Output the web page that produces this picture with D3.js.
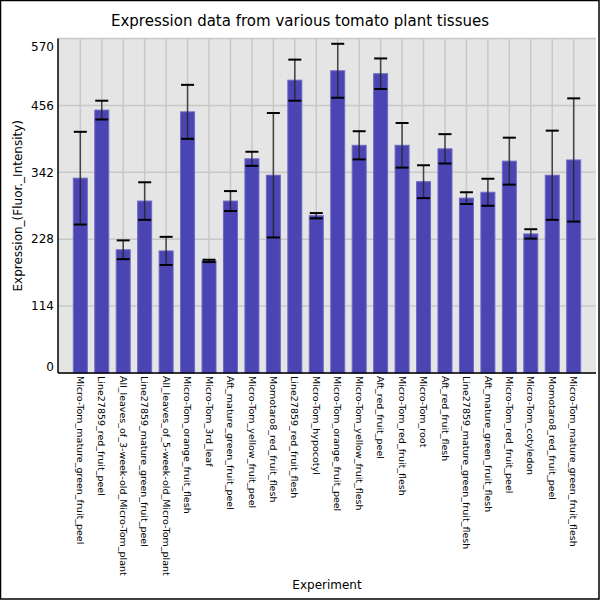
<!DOCTYPE html>
<html>
<head>
<meta charset="utf-8">
<script src="https://cdn.jsdelivr.net/npm/d3@7"></script>
<style>
  body { margin: 0; background: #fff; }
  svg { display: block; font-family: "DejaVu Sans", sans-serif; }
</style>
</head>
<body>
<svg id="chart" width="600" height="600"></svg>
<script>
// tissues on the x axis
const tissues = [
    'Micro-Tom_mature_green_fruit_peel',
    'Line27859_red_fruit_peel',
    'All_leaves_of_3-week-old_Micro-Tom_plant',
    'Line27859_mature_green_fruit_peel',
    'All_leaves_of_5-week-old_Micro-Tom_plant',
    'Micro-Tom_orange_fruit_flesh',
    'Micro-Tom_3rd_leaf',
    'Aft_mature_green_fruit_peel',
    'Micro-Tom_yellow_fruit_peel',
    'Momotaro8_red_fruit_flesh',
    'Line27859_red_fruit_flesh',
    'Micro-Tom_hypocotyl',
    'Micro-Tom_orange_fruit_peel',
    'Micro-Tom_yellow_fruit_flesh',
    'Aft_red_fruit_peel',
    'Micro-Tom_red_fruit_flesh',
    'Micro-Tom_root',
    'Aft_red_fruit_flesh',
    'Line27859_mature_green_fruit_flesh',
    'Aft_mature_green_fruit_flesh',
    'Micro-Tom_red_fruit_peel',
    'Micro-Tom_cotyledon',
    'Momotaro8_red_fruit_peel',
    'Micro-Tom_mature_green_fruit_flesh'
];

// mean expression per tissue
const means = [332, 448, 210, 293, 208, 445, 191, 293, 365, 337, 499,
    268, 515, 388, 510, 388, 326, 382, 298, 308, 361, 237, 337, 363];

// error (+/-) per tissue
const errors = [79, 16, 16, 32, 24, 46, 2, 17, 12, 106, 35,
    4.5, 46, 24, 26, 38, 28, 25, 10, 23, 40, 8, 76, 105];

const yTicks = [0, 114, 228, 342, 456, 570];

const data = tissues.map((t, i) => ({ id: t, value: means[i], err: errors[i] }));

const svg = d3.select('#chart');
const plotL = 58, plotR = 596, plotT = 38.5, plotB = 373;

// outer frame
svg.append('rect')
    .attr('x', 0.5).attr('y', 0.5)
    .attr('width', 598.5).attr('height', 598.5)
    .attr('fill', 'none').attr('stroke', '#000').attr('stroke-width', 1.5);

const xScale = d3.scalePoint()
    .domain(tissues)
    .range([plotL, plotR])
    .padding(1.04);

const yScale = d3.scaleLinear()
    .domain([0, 570])
    .range([plotB, plotT]);

// plot background
svg.append('rect')
    .attr('x', plotL).attr('y', plotT)
    .attr('width', plotR - plotL).attr('height', plotB - plotT)
    .attr('fill', '#e5e5e5');

// grid lines
svg.append('g')
    .selectAll('line')
    .data(yTicks)
    .enter().append('line')
    .attr('x1', plotL).attr('x2', plotR)
    .attr('y1', d => yScale(d)).attr('y2', d => yScale(d))
    .attr('stroke', '#c8c8c8').attr('stroke-width', 1.5);

svg.append('g')
    .selectAll('line')
    .data(tissues)
    .enter().append('line')
    .attr('x1', d => xScale(d)).attr('x2', d => xScale(d))
    .attr('y1', plotT).attr('y2', plotB)
    .attr('stroke', '#c8c8c8').attr('stroke-width', 1.5);

// bars
const barW = 14;
svg.append('g')
    .selectAll('rect')
    .data(data)
    .enter().append('rect')
    .attr('x', d => xScale(d.id) - barW / 2)
    .attr('y', d => yScale(d.value))
    .attr('width', barW)
    .attr('height', d => plotB - yScale(d.value))
    .attr('fill', '#4a45b3')
    .attr('stroke', '#6e69c3')
    .attr('stroke-width', 1);

// error bars
const eb = svg.append('g');
eb.selectAll('.err')
    .data(data)
    .enter().append('line')
    .attr('x1', d => xScale(d.id)).attr('x2', d => xScale(d.id))
    .attr('y1', d => yScale(d.value + d.err))
    .attr('y2', d => yScale(d.value - d.err))
    .attr('stroke', '#222').attr('stroke-opacity', 0.8).attr('stroke-width', 1.5);

['top', 'bot'].forEach(side => {
    eb.selectAll('.cap-' + side)
        .data(data)
        .enter().append('line')
        .attr('x1', d => xScale(d.id) - 6.5).attr('x2', d => xScale(d.id) + 6.5)
        .attr('y1', d => yScale(side === 'top' ? d.value + d.err : d.value - d.err))
        .attr('y2', d => yScale(side === 'top' ? d.value + d.err : d.value - d.err))
        .attr('stroke', '#000').attr('stroke-width', 2);
});

// axes lines
svg.append('line')
    .attr('x1', plotL).attr('x2', plotL).attr('y1', plotT).attr('y2', plotB)
    .attr('stroke', '#000').attr('stroke-width', 1.5);
svg.append('line')
    .attr('x1', plotL).attr('x2', plotR).attr('y1', plotB).attr('y2', plotB)
    .attr('stroke', '#000').attr('stroke-width', 1.5);

// y tick labels (edge labels kept inside the plot height)
svg.append('g')
    .selectAll('text')
    .data(yTicks)
    .enter().append('text')
    .attr('x', plotL - 4)
    .attr('y', d => Math.min(Math.max(yScale(d), plotT + 8), plotB - 6))
    .attr('dy', '0.35em')
    .attr('text-anchor', 'end')
    .attr('font-size', 12)
    .text(d => d);

// x tick labels, rotated
svg.append('g')
    .selectAll('text')
    .data(tissues)
    .enter().append('text')
    .attr('transform', d => `translate(${xScale(d)},376) rotate(90)`)
    .attr('dy', '0.35em')
    .attr('font-size', 9.5)
    .text(d => d);

// titles
svg.append('text')
    .attr('x', 300).attr('y', 26)
    .attr('text-anchor', 'middle')
    .attr('font-size', 15)
    .text('Expression data from various tomato plant tissues');

svg.append('text')
    .attr('x', (plotL + plotR) / 2).attr('y', 589)
    .attr('text-anchor', 'middle')
    .attr('font-size', 12)
    .text('Experiment');

svg.append('text')
    .attr('transform', `translate(22,${(plotT + plotB) / 2}) rotate(-90)`)
    .attr('text-anchor', 'middle')
    .attr('font-size', 12)
    .text('Expression_(Fluor._Intensity)');
</script>
</body>
</html>
